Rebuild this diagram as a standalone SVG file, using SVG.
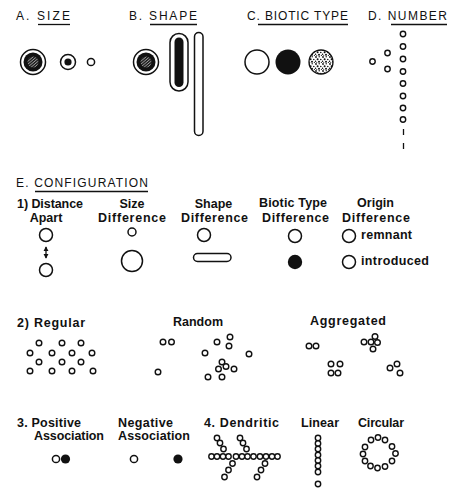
<svg xmlns="http://www.w3.org/2000/svg" width="461" height="489" viewBox="0 0 461 489">
<style>
.ttl{font-family:"Liberation Sans",Arial,sans-serif;font-size:12px;fill:#111}
.lbl{font-family:"Liberation Sans",Arial,sans-serif;font-size:12.5px;font-weight:bold;fill:#111}
.o{fill:#fff;stroke:#111;stroke-width:1.5}
.d{fill:#fff;stroke:#111;stroke-width:1.4}
.f{fill:#111}
.ul{stroke:#111;stroke-width:1.3}
</style>
<defs>
<pattern id="hatch" width="2.2" height="2.2" patternUnits="userSpaceOnUse" patternTransform="rotate(-40)">
<rect width="2.2" height="2.2" fill="#1a1a1a"/>
<line x1="0" y1="1" x2="2.2" y2="1" stroke="#bbb" stroke-width="0.7"/>
</pattern>
<pattern id="stip" width="7" height="7" patternUnits="userSpaceOnUse">
<rect width="7" height="7" fill="#fff"/>
<circle cx="1" cy="1" r="0.9" fill="#111"/>
<circle cx="4.2" cy="0.8" r="0.7" fill="#111"/>
<circle cx="2.6" cy="3.2" r="1" fill="#111"/>
<circle cx="5.8" cy="3.5" r="0.8" fill="#111"/>
<circle cx="0.6" cy="5.3" r="0.7" fill="#111"/>
<circle cx="4" cy="5.8" r="1" fill="#111"/>
<circle cx="6.4" cy="6.3" r="0.6" fill="#111"/>
<circle cx="1.8" cy="6.6" r="0.5" fill="#111"/>
</pattern>
<marker id="ah" viewBox="0 0 6 6" refX="5" refY="3" markerWidth="4" markerHeight="4" orient="auto-start-reverse">
<path d="M0,0 L6,3 L0,6 z" fill="#111"/>
</marker>
</defs>
<rect width="461" height="489" fill="#fff"/>

<!-- A. SIZE -->
<g id="size">
<text class="ttl" x="16" y="20" textLength="54">A. SIZE</text>
<line class="ul" x1="38" y1="24.5" x2="70" y2="24.5"/>
<circle class="o" cx="33" cy="62" r="12.5"/>
<circle class="f" cx="33" cy="62" r="9.5"/>
<circle cx="33" cy="62" r="5.5" fill="url(#hatch)"/>
<circle class="o" cx="68" cy="62" r="7.5"/>
<circle class="f" cx="68" cy="62" r="3.6"/>
<circle class="o" cx="91" cy="62" r="3.6"/>
</g>

<!-- B. SHAPE -->
<g id="shape">
<text class="ttl" x="129" y="20" textLength="68">B. SHAPE</text>
<line class="ul" x1="150" y1="24.5" x2="197" y2="24.5"/>
<circle class="o" cx="146" cy="62" r="12.5"/>
<circle class="f" cx="146" cy="62" r="9.5"/>
<circle cx="146" cy="62" r="5.5" fill="url(#hatch)"/>
<rect class="o" x="170" y="33.5" width="18" height="57.5" rx="9"/>
<rect class="f" x="174.5" y="37.5" width="9" height="49.5" rx="4.5"/>
<rect class="o" x="194.5" y="32.5" width="8.5" height="103" rx="4.25"/>
</g>

<!-- C. BIOTIC TYPE -->
<g id="biotic">
<text class="ttl" x="247" y="20" textLength="101">C. BIOTIC TYPE</text>
<line class="ul" x1="258" y1="24.5" x2="348" y2="24.5"/>
<circle class="o" cx="257" cy="62" r="12"/>
<circle class="f" cx="288" cy="62" r="12.5"/>
<circle cx="321" cy="62" r="12" fill="url(#stip)" stroke="#111" stroke-width="1.3"/>
</g>

<!-- D. NUMBER -->
<g id="number">
<text class="ttl" x="368" y="20" textLength="79">D. NUMBER</text>
<line class="ul" x1="391" y1="24.5" x2="447" y2="24.5"/>
<circle class="d" cx="403" cy="34" r="2.7"/>
<circle class="d" cx="403" cy="46.5" r="2.7"/>
<circle class="d" cx="403" cy="59" r="2.7"/>
<circle class="d" cx="403" cy="71.5" r="2.7"/>
<circle class="d" cx="403" cy="83.5" r="2.7"/>
<circle class="d" cx="403" cy="96" r="2.7"/>
<circle class="d" cx="403" cy="108" r="2.7"/>
<circle class="d" cx="403" cy="119.5" r="2.7"/>
<line class="ul" x1="403.5" y1="129" x2="403.5" y2="135"/>
<line class="ul" x1="403.5" y1="143" x2="403.5" y2="149"/>
<circle class="d" cx="387.5" cy="53" r="2.7"/>
<circle class="d" cx="372.5" cy="61.5" r="2.7"/>
<circle class="d" cx="387.5" cy="69" r="2.7"/>
</g>

<!-- E. CONFIGURATION -->
<g id="config-title">
<text class="ttl" x="16" y="187" textLength="132">E. CONFIGURATION</text>
<line class="ul" x1="35" y1="191.5" x2="148" y2="191.5"/>
</g>

<g id="distance">
<text class="lbl" x="17" y="208" textLength="66">1) Distance</text>
<text class="lbl" x="46" y="222" text-anchor="middle">Apart</text>
<circle class="o" cx="46" cy="235" r="6.5"/>
<circle class="o" cx="46" cy="270" r="6.5"/>
</g>
<g id="connectors">
<line x1="46" y1="247" x2="46" y2="258" stroke="#111" stroke-width="1.3" marker-start="url(#ah)" marker-end="url(#ah)"/>
</g>

<g id="sizediff">
<text class="lbl" x="132" y="208" text-anchor="middle">Size</text>
<text class="lbl" x="98" y="222" textLength="68">Difference</text>
<circle class="o" cx="132" cy="232" r="4"/>
<circle class="o" cx="132" cy="261" r="10.5"/>
</g>

<g id="shapediff">
<text class="lbl" x="213.5" y="208" text-anchor="middle">Shape</text>
<text class="lbl" x="181" y="222" textLength="67">Difference</text>
<circle class="o" cx="204" cy="235" r="6.5"/>
<rect class="o" x="193.5" y="253.5" width="37.5" height="8" rx="4"/>
</g>

<g id="bioticdiff">
<text class="lbl" x="259" y="207" textLength="68">Biotic Type</text>
<text class="lbl" x="262" y="222" textLength="67">Difference</text>
<circle class="o" cx="295" cy="236" r="6.5"/>
<circle class="f" cx="295" cy="262" r="7.2"/>
</g>

<g id="origindiff">
<text class="lbl" x="375.5" y="207" text-anchor="middle">Origin</text>
<text class="lbl" x="342" y="222" textLength="68">Difference</text>
<circle class="o" cx="349" cy="236" r="6.5"/>
<circle class="o" cx="349" cy="262" r="6.5"/>
<text class="lbl" x="361" y="239" textLength="51">remnant</text>
<text class="lbl" x="361" y="265" textLength="68">introduced</text>
</g>

<g id="regular">
<text class="lbl" x="17" y="327" textLength="68">2) Regular</text>
<circle class="d" cx="39" cy="343" r="2.8"/>
<circle class="d" cx="62" cy="343" r="2.8"/>
<circle class="d" cx="81" cy="343" r="2.8"/>
<circle class="d" cx="30" cy="353" r="2.8"/>
<circle class="d" cx="52" cy="353" r="2.8"/>
<circle class="d" cx="72" cy="353" r="2.8"/>
<circle class="d" cx="92" cy="353" r="2.8"/>
<circle class="d" cx="39" cy="362" r="2.8"/>
<circle class="d" cx="62" cy="362" r="2.8"/>
<circle class="d" cx="81" cy="362" r="2.8"/>
<circle class="d" cx="30" cy="371" r="2.8"/>
<circle class="d" cx="52" cy="371" r="2.8"/>
<circle class="d" cx="72" cy="371" r="2.8"/>
<circle class="d" cx="93" cy="371" r="2.8"/>
</g>

<g id="random">
<text class="lbl" x="173" y="326" textLength="50">Random</text>
<circle class="d" cx="163" cy="342" r="2.8"/>
<circle class="d" cx="171.5" cy="342" r="2.8"/>
<circle class="d" cx="217" cy="342" r="2.8"/>
<circle class="d" cx="230" cy="337" r="2.8"/>
<circle class="d" cx="229" cy="346" r="2.8"/>
<circle class="d" cx="205" cy="353" r="2.8"/>
<circle class="d" cx="249" cy="354" r="2.8"/>
<circle class="d" cx="158" cy="372" r="2.8"/>
<circle class="d" cx="222" cy="362" r="2.8"/>
<circle class="d" cx="218.5" cy="369" r="2.8"/>
<circle class="d" cx="226" cy="366.5" r="2.8"/>
<circle class="d" cx="234" cy="369" r="2.8"/>
<circle class="d" cx="208" cy="377" r="2.8"/>
<circle class="d" cx="222" cy="377" r="2.8"/>
</g>

<g id="aggregated">
<text class="lbl" x="310" y="325" textLength="76">Aggregated</text>
<circle class="d" cx="309" cy="346" r="2.8"/>
<circle class="d" cx="316" cy="346" r="2.8"/>
<circle class="d" cx="364" cy="342" r="2.8"/>
<circle class="d" cx="371" cy="342" r="2.8"/>
<circle class="d" cx="375" cy="336.5" r="2.8"/>
<circle class="d" cx="377.5" cy="342.5" r="2.8"/>
<circle class="d" cx="373" cy="349" r="2.8"/>
<circle class="d" cx="331" cy="364" r="2.8"/>
<circle class="d" cx="340" cy="364" r="2.8"/>
<circle class="d" cx="331" cy="373" r="2.8"/>
<circle class="d" cx="338" cy="373" r="2.8"/>
<circle class="d" cx="390" cy="368" r="2.8"/>
<circle class="d" cx="397" cy="364" r="2.8"/>
<circle class="d" cx="400" cy="373" r="2.8"/>
</g>

<g id="positive">
<text class="lbl" x="17" y="427" textLength="64">3. Positive</text>
<text class="lbl" x="34" y="440" textLength="70">Association</text>
<circle class="o" cx="56" cy="459" r="3.6"/>
<circle class="f" cx="65.5" cy="459" r="4.6"/>
</g>

<g id="negative">
<text class="lbl" x="118" y="427" textLength="55">Negative</text>
<text class="lbl" x="118" y="440" textLength="72">Association</text>
<circle class="o" cx="134" cy="459" r="3.6"/>
<circle class="f" cx="178" cy="459" r="4.6"/>
</g>

<g id="dendritic">
<text class="lbl" x="204" y="427" textLength="75">4. Dendritic</text>
<circle class="d" cx="217" cy="438" r="2.7"/>
<circle class="d" cx="220" cy="443" r="2.7"/>
<circle class="d" cx="223.5" cy="449" r="2.7"/>
<circle class="d" cx="240" cy="438" r="2.7"/>
<circle class="d" cx="243" cy="443" r="2.7"/>
<circle class="d" cx="246.5" cy="449" r="2.7"/>
<circle class="d" cx="211.5" cy="456.5" r="2.7"/>
<circle class="d" cx="217" cy="456.5" r="2.7"/>
<circle class="d" cx="223" cy="456.5" r="2.7"/>
<circle class="d" cx="228.5" cy="456.5" r="2.7"/>
<circle class="d" cx="236" cy="456.5" r="2.7"/>
<circle class="d" cx="242" cy="456.5" r="2.7"/>
<circle class="d" cx="247.5" cy="456.5" r="2.7"/>
<circle class="d" cx="253.5" cy="456.5" r="2.7"/>
<circle class="d" cx="260" cy="456.5" r="2.7"/>
<circle class="d" cx="266" cy="456.5" r="2.7"/>
<circle class="d" cx="272" cy="456.5" r="2.7"/>
<circle class="d" cx="277.5" cy="456.5" r="2.7"/>
<circle class="d" cx="232.5" cy="463.5" r="2.7"/>
<circle class="d" cx="228.5" cy="470" r="2.7"/>
<circle class="d" cx="224.5" cy="477" r="2.7"/>
<circle class="d" cx="265" cy="463.5" r="2.7"/>
<circle class="d" cx="261" cy="470" r="2.7"/>
<circle class="d" cx="257" cy="477" r="2.7"/>
</g>

<g id="linear">
<text class="lbl" x="320" y="427" text-anchor="middle" textLength="38">Linear</text>
<circle class="d" cx="318" cy="438" r="2.7"/>
<circle class="d" cx="318" cy="443.5" r="2.7"/>
<circle class="d" cx="318" cy="449" r="2.7"/>
<circle class="d" cx="318" cy="455" r="2.7"/>
<circle class="d" cx="318" cy="460.5" r="2.7"/>
<circle class="d" cx="318" cy="466" r="2.7"/>
<circle class="d" cx="318" cy="472" r="2.7"/>
<circle class="d" cx="318" cy="484" r="2.7"/>
</g>

<g id="circular">
<text class="lbl" x="381" y="427" text-anchor="middle" textLength="46">Circular</text>
<circle class="d" cx="371" cy="440" r="2.7"/>
<circle class="d" cx="378" cy="437.5" r="2.7"/>
<circle class="d" cx="385" cy="440" r="2.7"/>
<circle class="d" cx="392" cy="446.5" r="2.7"/>
<circle class="d" cx="395.5" cy="453.5" r="2.7"/>
<circle class="d" cx="392" cy="461" r="2.7"/>
<circle class="d" cx="385" cy="466.5" r="2.7"/>
<circle class="d" cx="377.5" cy="468" r="2.7"/>
<circle class="d" cx="370.5" cy="466" r="2.7"/>
<circle class="d" cx="365" cy="461" r="2.7"/>
<circle class="d" cx="363" cy="454" r="2.7"/>
<circle class="d" cx="365" cy="447" r="2.7"/>
</g>
</svg>
